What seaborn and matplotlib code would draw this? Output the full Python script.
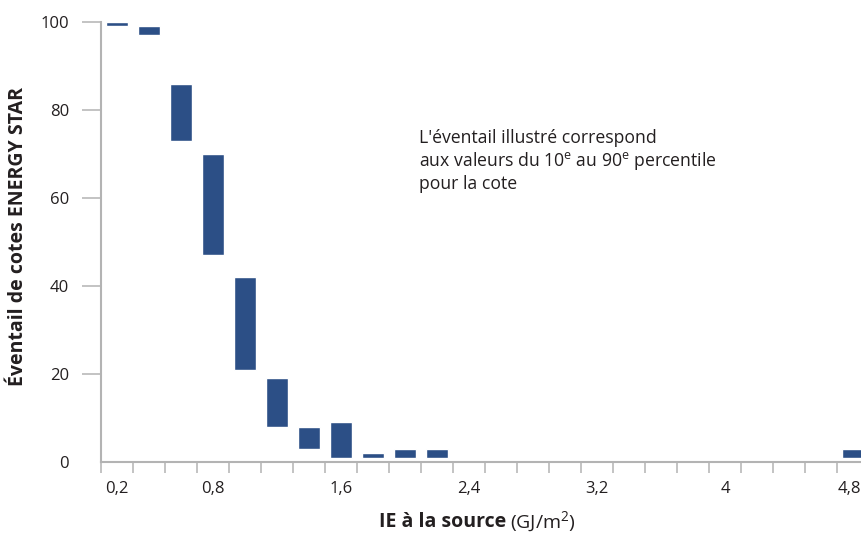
import pandas as pd
import seaborn as sns
import matplotlib.pyplot as plt
import matplotlib.transforms as mtransforms

sns.set_style('white')
plt.rcParams['font.family'] = ['Open Sans', 'DejaVu Sans']
plt.rcParams['mathtext.fontset'] = 'custom'
plt.rcParams['mathtext.rm'] = 'Open Sans'

# all categories on the axis (GJ/m2), comma decimal
categories = ['0,2', '0,4', '0,6', '0,8', '1', '1,2', '1,4', '1,6', '1,8', '2', '2,2', '2,4',
              '2,6', '2,8', '3', '3,2', '3,4', '3,6', '3,8', '4', '4,2', '4,4', '4,6', '4,8']
shown_labels = ['0,2', '0,8', '1,6', '2,4', '3,2', '4', '4,8']

# 10th - 90th percentile range of the score, per bin
bins = ['0,2', '0,4', '0,6', '0,8', '1', '1,2', '1,4', '1,6', '1,8', '2', '2,2', '4,8']
p10 = [99, 97, 73, 47, 21, 8, 3, 1, 1, 1, 1, 1]
p90 = [100, 99, 86, 70, 42, 19, 8, 9, 2, 3, 3, 3]

df = pd.DataFrame({'bin': bins, 'low': p10, 'high': p90})
df['span'] = df.high - df.low

bar_color = '#2c4f86'
grey = '#b3b3b3'
text_color = '#231f20'

fig = plt.figure(figsize=(8.62, 5.35), dpi=100)
ax = fig.add_axes([101 / 862, 73 / 535, 768 / 862, 440 / 535])

sns.barplot(data=df, x='bin', y='span', order=categories, color=bar_color,
            saturation=1, width=0.66, errorbar=None, bottom=df.low.to_numpy(), ax=ax)

ax.set_xlim(-0.5, len(categories) - 0.5)
ax.set_ylim(0, 100)

# spines
for side in ['top', 'right']:
    ax.spines[side].set_visible(False)
for side in ['left', 'bottom']:
    ax.spines[side].set_color(grey)
    ax.spines[side].set_linewidth(1.5)

# y ticks
ax.set_yticks([0, 20, 40, 60, 80, 100])
ax.tick_params(axis='y', length=14, width=1.1, color=grey, pad=9,
               labelsize=12, labelcolor=text_color, left=True)
ax.yaxis.get_major_ticks()[0].tick1line.set_visible(False)

# x: labels at band centres, tick marks at band edges
ax.set_xticks([categories.index(c) for c in shown_labels])
ax.set_xticklabels(shown_labels)
ax.set_xticks([i - 0.5 for i in range(len(categories) + 1)], minor=True)
ax.tick_params(axis='x', which='major', length=0, pad=14, labelsize=12, labelcolor=text_color)
ax.tick_params(axis='x', which='minor', length=8, width=1.1, color=grey, bottom=True)

# keep the last label inside the figure
last = ax.get_xticklabels()[-1]
last.set_transform(last.get_transform() + mtransforms.ScaledTranslation(-4 / 100, 0, fig.dpi_scale_trans))

ax.set_xlabel('')
ax.set_ylabel('')

fig.text(18 / 862, 1 - 237 / 535, 'Éventail de cotes ENERGY STAR', rotation=90,
         ha='center', va='center', fontsize=14, fontweight='bold', color=text_color)
fig.text(506 / 862, 1 - 522 / 535, 'IE à la source', ha='right', va='center',
         fontsize=14, fontweight='bold', color=text_color)
fig.text(510 / 862, 1 - 522 / 535, '(GJ/m$^2$)', ha='left', va='center',
         fontsize=14, color=text_color)

fig.text(419 / 862, 1 - 161 / 535,
         "L'éventail illustré correspond\n"
         "aux valeurs du 10$^\\mathrm{e}$ au 90$^\\mathrm{e}$ percentile\n"
         "pour la cote",
         ha='left', va='center', fontsize=12.7, color=text_color, linespacing=1.2)

fig.savefig('out.png', dpi=100)
